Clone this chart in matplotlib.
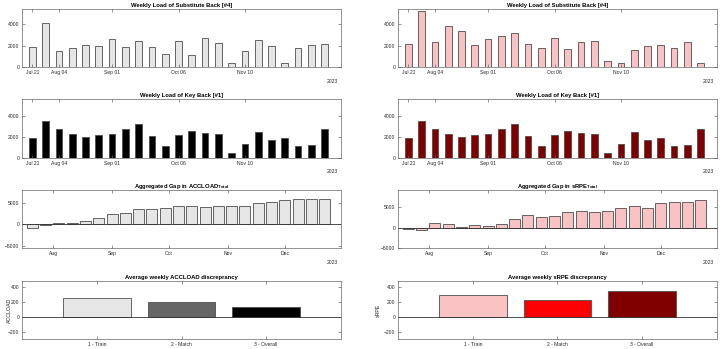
import datetime as dt
import matplotlib
matplotlib.use("Agg")
import matplotlib.pyplot as plt
import matplotlib.dates as mdates
import pandas as pd

# weekly data (2023 season)
weeks = pd.date_range("2023-07-21", periods=23, freq="7D")
sub_acc = [1890, 4090, 1520, 1830, 2050, 1950, 2600, 1920, 2480, 1860, 1210, 2480,
           1180, 2730, 2260, 430, 1490, 2510, 1950, 370, 1770, 2050, 2200]
sub_rpe = [2140, 5270, 2330, 3880, 3350, 2050, 2640, 2910, 3160, 2140, 1770, 2700,
           1710, 2390, 2420, 560, 370, 1640, 1950, 2110, 1770, 2330, 370]
key_load = [1830, 3500, 2740, 2300, 1980, 2140, 2270, 2740, 3240, 2110, 1070, 2200,
            2550, 2330, 2270, 410, 1260, 2460, 1670, 1830, 1130, 1200, 2740]
gap_acc = [-750, -150, 300, 380, 770, 1380, 2460, 2690, 3540, 3620, 3850, 4150,
           4150, 4000, 4150, 4150, 4150, 4920, 5150, 5620, 5850, 5850, 5850]
gap_rpe = [-250, -580, 1250, 920, 170, 750, 500, 1000, 2000, 3000, 2580, 2920,
           3830, 4000, 3920, 4000, 4750, 5250, 4750, 6000, 6330, 6330, 6830]
categories = ["1 - Train", "2 - Match", "3 - Overall"]
avg_acc = [253, 196, 129]
avg_rpe = [288, 220, 346]

plt.rcParams['font.family'] = ['Liberation Sans', 'DejaVu Sans']
plt.rcParams['mathtext.fontset'] = 'custom'
plt.rcParams['mathtext.rm'] = 'Liberation Sans:bold'

TXT = '#262626'
EDGE = '#4d4d4d'
FS = 3.6

fig = plt.figure(figsize=(7.2, 3.49), dpi=100)

lefts = [0.0306, 0.5528]
bottoms = [0.807, 0.548, 0.2885, 0.0278]
W, H = 0.443, 0.167

x0 = weeks[0] - pd.Timedelta(days=5.45)
x1 = weeks[0] + pd.Timedelta(days=162.6)


def style(ax, title):
    for s in ax.spines.values():
        s.set_color('#666666')
        s.set_linewidth(0.5)
    ax.tick_params(direction='in', top=True, right=True, length=2, width=0.5,
                   color='#666666', labelsize=FS, labelcolor=TXT, pad=2)
    ax.set_title(title, fontsize=4.2, fontweight='bold', color='black', pad=1.5)


def year_label(ax, y=-0.24):
    ax.text(0.99, y, '2023', transform=ax.transAxes, ha='right', va='center',
            fontsize=FS, color=TXT)


def weekly(ax, vals, color, title, ylim, yl=-0.24):
    ax.bar(weeks, vals, width=3.5, color=color, edgecolor=EDGE, linewidth=0.6)
    ax.set_xlim(x0, x1)
    ax.set_ylim(*ylim)
    ax.set_yticks([0, 2000, 4000])
    ticks = [dt.date(2023, 7, 21), dt.date(2023, 8, 4), dt.date(2023, 9, 1),
             dt.date(2023, 10, 6), dt.date(2023, 11, 10)]
    ax.set_xticks(ticks)
    ax.xaxis.set_major_formatter(mdates.DateFormatter('%b %d'))
    style(ax, title)
    year_label(ax, yl)


def gap(ax, vals, color, title, ylim):
    ax.bar(weeks, vals, width=5.8, color=color, edgecolor=EDGE, linewidth=0.6)
    ax.axhline(0, color='#333333', linewidth=0.6)
    ax.set_xlim(x0, x1)
    ax.set_ylim(*ylim)
    ax.set_yticks([-5000, 0, 5000])
    ax.set_xticks([dt.date(2023, m, 1) for m in range(8, 13)])
    ax.xaxis.set_major_formatter(mdates.DateFormatter('%b'))
    style(ax, title)
    year_label(ax)


def average(ax, vals, colors, title, ylabel, lab_x):
    pos = [1, 2, 3]
    ax.bar(pos, vals, width=0.8, color=colors, edgecolor=EDGE, linewidth=0.6)
    ax.axhline(0, color='#333333', linewidth=0.6)
    ax.set_xlim(0.11, 3.89)
    ax.set_ylim(-300, 480)
    ax.set_yticks([-200, 0, 200, 400])
    ax.set_xticks(pos)
    ax.set_xticklabels(categories)
    ax.set_ylabel(ylabel, fontsize=FS + 0.2, color=TXT)
    ax.yaxis.set_label_coords(lab_x, 0.5)
    style(ax, title)


# left column: ACCLOAD, right column: sRPE
ax = fig.add_axes([lefts[0], bottoms[0], W, H])
weekly(ax, sub_acc, '#e6e6e6', 'Weekly Load of Substitute Back [#4]', (0, 5430))
ax = fig.add_axes([lefts[1], bottoms[0], W, H])
weekly(ax, sub_rpe, '#fac3c3', 'Weekly Load of Substitute Back [#4]', (0, 5430))

ax = fig.add_axes([lefts[0], bottoms[1], W, H])
weekly(ax, key_load, 'black', 'Weekly Load of Key Back [#1]', (0, 5540), -0.23)
ax = fig.add_axes([lefts[1], bottoms[1], W, H])
weekly(ax, key_load, '#800000', 'Weekly Load of Key Back [#1]', (0, 5540), -0.23)

ax = fig.add_axes([lefts[0], bottoms[2], W, H])
gap(ax, gap_acc, '#e6e6e6', r'Aggregated Gap in ACCLOAD$_{\mathrm{Total}}$', (-5540, 7920))
ax = fig.add_axes([lefts[1], bottoms[2], W, H])
gap(ax, gap_rpe, '#fac3c3', r'Aggregated Gap in sRPE$_{\mathrm{Total}}$', (-5170, 9330))

ax = fig.add_axes([lefts[0], bottoms[3], W, H])
average(ax, avg_acc, ['#e6e6e6', '#666666', 'black'],
        'Average weekly ACCLOAD discreprancy', 'ACCLOAD', -0.031)
ax = fig.add_axes([lefts[1], bottoms[3], W, H])
average(ax, avg_rpe, ['#fac3c3', '#ff0000', '#800000'],
        'Average weekly sRPE discreprancy', 'sRPE', -0.053)

fig.savefig('out.png', dpi=100)
